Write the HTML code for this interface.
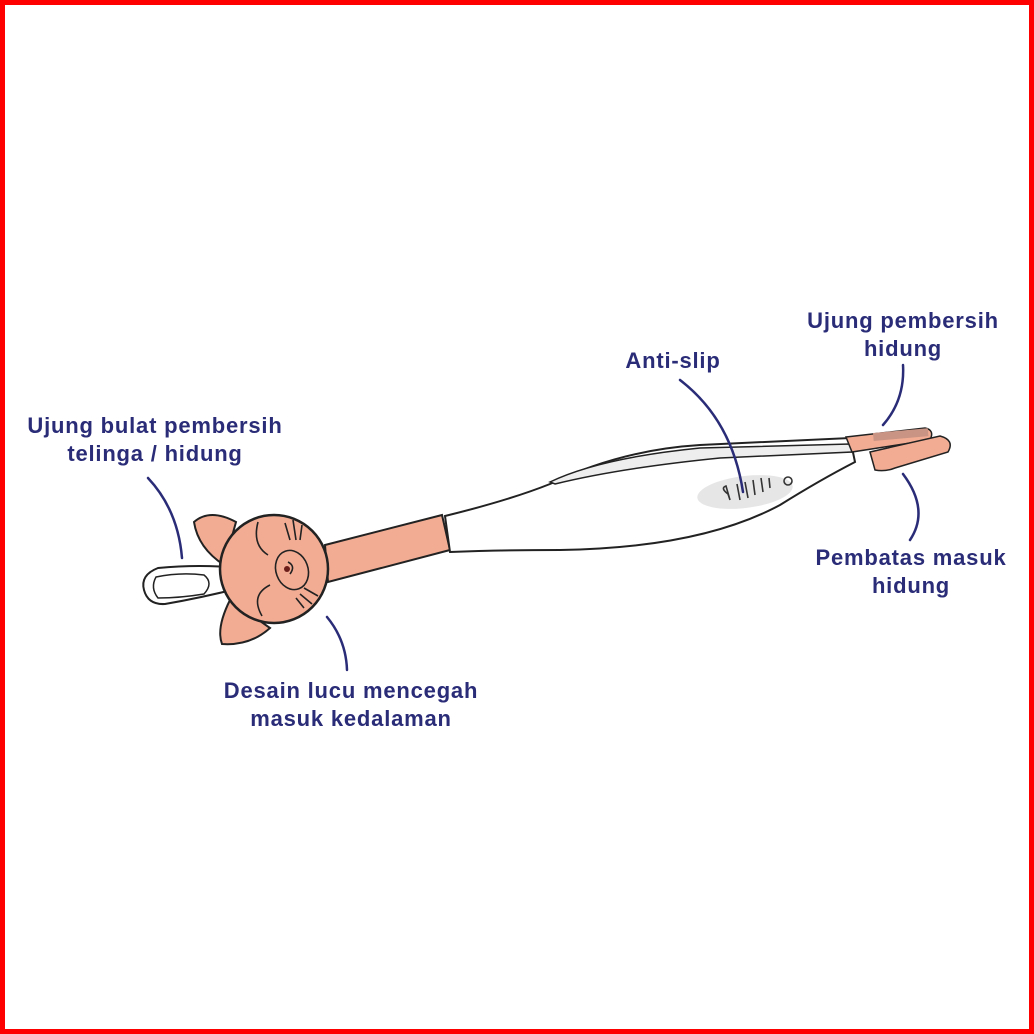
<!DOCTYPE html>
<html><head><meta charset="utf-8"><style>
html,body{margin:0;padding:0;background:#fff}
.w{position:relative;width:1034px;height:1034px;box-sizing:border-box;border:5px solid #ff0000;background:#fff;overflow:hidden}
.t{position:absolute;font-family:"Liberation Sans",sans-serif;font-weight:bold;font-size:22px;letter-spacing:0.8px;color:#2a2c78;text-align:center;line-height:28px;white-space:nowrap;transform:translateX(-50%)}
svg{position:absolute;left:0;top:0}
</style></head><body><div class="w">
<svg width="1034" height="1034" viewBox="0 0 1034 1034" style="left:-5px;top:-5px">
<path d="M240 568 Q200 564 158 568 Q140 575 144 590 Q148 605 165 604 Q200 598 240 588 Z" fill="#fff" stroke="#222" stroke-width="2"/>
<path d="M156 577 Q180 572 204 575 Q214 583 204 594 Q180 598 158 598 Q150 588 156 577Z" fill="none" stroke="#222" stroke-width="1.5"/>
<path d="M325 545 L442 515 L450 550 L328 582 Z" fill="#f2ac93" stroke="#222" stroke-width="2"/>
<path d="M236 522 Q210 508 194 522 Q198 548 224 565 Z" fill="#f2ac93" stroke="#222" stroke-width="2"/>
<path d="M230 600 Q216 628 222 644 Q250 646 270 628 Z" fill="#f2ac93" stroke="#222" stroke-width="2"/>
<circle cx="274" cy="569" r="54" fill="#f2ac93" stroke="#222" stroke-width="2.5"/>
<g fill="none" stroke="#222" stroke-width="1.6">
<path d="M258 522 Q252 545 268 555"/>
<path d="M270 585 Q250 595 262 616"/>
<ellipse cx="292" cy="570" rx="16" ry="20" transform="rotate(-20 292 570)"/>
<path d="M288 562 Q296 566 290 574"/>
<path d="M285 523 L290 540 M293 520 L296 540 M302 525 L300 540"/>
<path d="M304 588 L318 596 M300 594 L312 604 M296 598 L304 608"/>
</g>
<circle cx="287" cy="569" r="3" fill="#6b1d1a"/>
<path d="M445 516 Q510 500 550 484 Q620 450 700 445 L850 438 L855 462 Q820 480 780 505 Q700 548 560 550 Q500 550 450 552 Z" fill="#fff" stroke="#222" stroke-width="2"/>
<path d="M550 482 Q600 458 700 448 L850 444 L852 452 L720 458 Q620 468 555 484 Z" fill="#eee" stroke="#222" stroke-width="1.5"/>
<ellipse cx="745" cy="492" rx="48" ry="16" fill="#e6e6e6" transform="rotate(-7 745 492)"/>
<g fill="none" stroke="#333" stroke-width="1.6">
<path d="M728 494 Q720 488 726 486 L730 500 Z"/>
<path d="M737 484 L740 500 M745 482 L748 498 M753 480 L755 495 M761 478 L763 492 M769 478 L770 488"/>
<circle cx="788" cy="481" r="4"/>
</g>
<path d="M846 437 L925 428 Q935 430 930 440 L852 452 Z" fill="#f2ac93" stroke="#222" stroke-width="1.5"/>
<rect x="873" y="433" width="55" height="8" fill="#c99484" transform="rotate(-5 873 433)"/>
<path d="M870 452 L940 436 Q955 440 948 452 L895 468 Q885 472 875 470 Z" fill="#f2ac93" stroke="#222" stroke-width="1.5"/>
<g fill="none" stroke="#2a2c78" stroke-width="2.5" stroke-linecap="round">
<path d="M148 478 Q178 510 182 558"/>
<path d="M327 617 Q346 640 347 670"/>
<path d="M680 380 Q732 420 743 492"/>
<path d="M903 365 Q905 400 883 425"/>
<path d="M903 474 Q930 510 910 540"/>
</g>
</svg>
<div class="t" style="left:150px;top:407px">Ujung bulat pembersih<br>telinga / hidung</div>
<div class="t" style="left:668px;top:342px">Anti-slip</div>
<div class="t" style="left:898px;top:302px">Ujung pembersih<br>hidung</div>
<div class="t" style="left:906px;top:539px">Pembatas masuk<br>hidung</div>
<div class="t" style="left:346px;top:672px">Desain lucu mencegah<br>masuk kedalaman</div>
</div></body></html>
